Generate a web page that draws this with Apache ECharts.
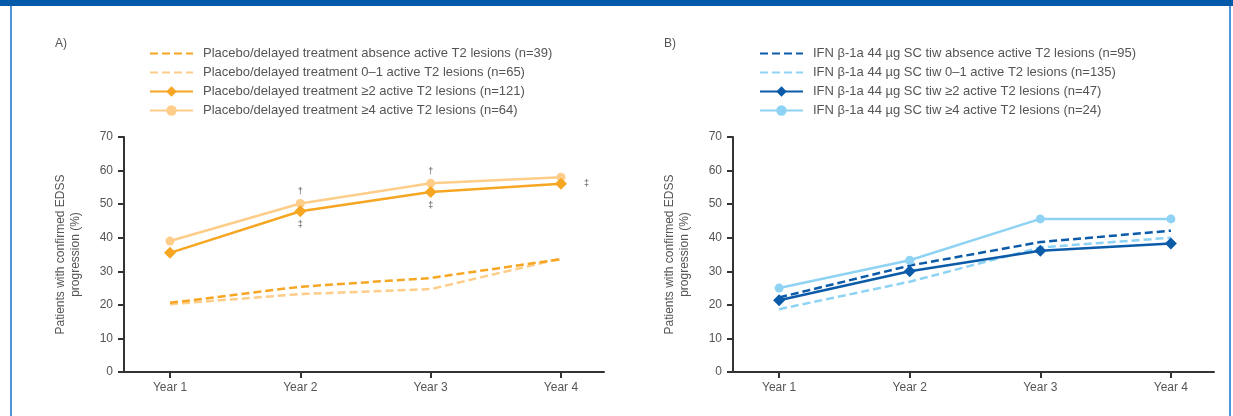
<!doctype html>
<html lang="en">
<head>
    <meta charset="UTF-8">
    <script src="https://cdn.jsdelivr.net/npm/echarts@6/dist/echarts.min.js"></script>
    <title>EDSS progression by active T2 lesions</title>
    <style>
        body { margin: 0; background: #fff; }
        #wrap { position: relative; width: 1233px; height: 416px; overflow: hidden; }
        #topbar { position: absolute; left: 0; top: 0; width: 1233px; height: 6px; background: #0059a9; }
        #lborder { position: absolute; left: 10px; top: 6px; width: 2px; height: 410px; background: #4f95d6; }
        #rborder { position: absolute; left: 1229px; top: 6px; width: 2px; height: 410px; background: #4f95d6; }
        #chart { position: absolute; left: 0; top: 0; width: 1233px; height: 416px; }
    </style>
</head>
<body>
<div id="wrap">
    <div id="topbar"></div>
    <div id="lborder"></div>
    <div id="rborder"></div>
    <div id="chart"></div>
</div>
<script>
    // x categories
    var years = ['Year 1', 'Year 2', 'Year 3', 'Year 4'];

    // panel A: placebo / delayed treatment (%)
    var plcAbsence = [20.6, 25.4, 28.0, 33.6];
    var plc01 = [20.2, 23.2, 24.7, 33.8];
    var plcGe2 = [35.5, 47.9, 53.6, 56.1];
    var plcGe4 = [39.0, 50.2, 56.2, 58.0];
    var plcGe2Marks = ['', '\u2021', '\u2021', '\u2021'];
    var plcGe4Marks = ['', '\u2020', '\u2020', ''];

    // panel B: IFN beta-1a 44 ug SC tiw (%)
    var ifnAbsence = [22.2, 31.7, 38.7, 42.1];
    var ifn01 = [18.7, 26.9, 37.1, 40.0];
    var ifnGe2 = [21.4, 30.0, 36.1, 38.3];
    var ifnGe4 = [25.0, 33.3, 45.6, 45.6];

    var namesA = [
        'Placebo/delayed treatment absence active T2 lesions (n=39)',
        'Placebo/delayed treatment 0\u20131 active T2 lesions (n=65)',
        'Placebo/delayed treatment \u22652 active T2 lesions (n=121)',
        'Placebo/delayed treatment \u22654 active T2 lesions (n=64)'
    ];
    var namesB = [
        'IFN \u03b2-1a 44 \u00b5g SC tiw absence active T2 lesions (n=95)',
        'IFN \u03b2-1a 44 \u00b5g SC tiw 0\u20131 active T2 lesions (n=135)',
        'IFN \u03b2-1a 44 \u00b5g SC tiw \u22652 active T2 lesions (n=47)',
        'IFN \u03b2-1a 44 \u00b5g SC tiw \u22654 active T2 lesions (n=24)'
    ];

    var ORANGE = '#f6a623', ORANGE_LT = '#fdcd89';
    var BLUE = '#0b5ba9', BLUE_LT = '#8fd3f4';
    var TXT = '#555';
    var FONT = 'Liberation Sans';

    function pts(arr, marks, lastRight) {
        return arr.map(function (v, i) {
            var m = marks ? marks[i] : '';
            var item = {value: [i + 1, v]};
            if (m) {
                item.label = {
                    show: true, formatter: m, color: TXT, fontSize: 9, fontFamily: FONT,
                    position: (lastRight && i === arr.length - 1) ? 'right' : (lastRight ? 'bottom' : 'top'),
                    distance: (lastRight && i === arr.length - 1) ? 17 : 3
                };
            }
            return item;
        });
    }

    function dashed(name, arr, color, idx) {
        return {
            name: name, type: 'line', xAxisIndex: idx, yAxisIndex: idx,
            data: pts(arr), symbol: 'none', color: color,
            lineStyle: {color: color, width: 2.5, type: [8, 4]}, z: 2, animation: false
        };
    }

    function solid(name, arr, color, idx, symbol, size, marks, lastRight) {
        return {
            name: name, type: 'line', xAxisIndex: idx, yAxisIndex: idx,
            data: pts(arr, marks, lastRight), symbol: symbol, symbolSize: size, color: color,
            itemStyle: {color: color}, lineStyle: {color: color, width: 2.5},
            z: symbol === 'diamond' ? 4 : 3, animation: false
        };
    }

    function xAx(idx) {
        return {
            type: 'value', gridIndex: idx, min: 0.647, max: 4.33,
            axisLine: {lineStyle: {color: '#333', width: 2}},
            axisTick: {customValues: [1, 2, 3, 4], length: 6, lineStyle: {color: '#333', width: 2}},
            axisLabel: {
                customValues: [1, 2, 3, 4], margin: 10, color: TXT, fontSize: 12, fontFamily: FONT,
                formatter: function (v) { return years[Math.round(v) - 1]; }
            },
            splitLine: {show: false}
        };
    }

    function yAx(idx) {
        return {
            type: 'value', gridIndex: idx, min: 0, max: 70, interval: 10,
            name: 'Patients with confirmed EDSS\nprogression (%)',
            nameLocation: 'middle', nameGap: 41, nameRotate: 90,
            nameTextStyle: {color: TXT, fontSize: 12, fontFamily: FONT, lineHeight: 15},
            axisLine: {show: true, lineStyle: {color: '#333', width: 2}},
            axisTick: {show: true, length: 6, lineStyle: {color: '#333', width: 2}},
            axisLabel: {margin: 11, color: TXT, fontSize: 12, fontFamily: FONT},
            splitLine: {show: false}
        };
    }

    function legend(left, names) {
        return {
            left: left, top: 42, orient: 'vertical',
            data: names.map(function (n, i) {
                // dashed rows: line only, no marker
                return i < 2 ? {name: n, itemStyle: {opacity: 0}} : {name: n};
            }),
            itemWidth: 43, itemHeight: 13, itemGap: 6,
            textStyle: {color: TXT, fontSize: 13, fontFamily: FONT, padding: [0, 0, 0, 5]},
            selectedMode: false
        };
    }

    var myChart = echarts.init(document.getElementById('chart'));
    var option = {
        backgroundColor: 'transparent',
        title: [
            {text: 'A)', left: 50, top: 33, textStyle: {color: TXT, fontSize: 12, fontWeight: 'normal', fontFamily: FONT}},
            {text: 'B)', left: 659, top: 33, textStyle: {color: TXT, fontSize: 12, fontWeight: 'normal', fontFamily: FONT}}
        ],
        legend: [legend(144, namesA), legend(754, namesB)],
        grid: [
            {left: 124, top: 137, width: 480, height: 235},
            {left: 733, top: 137, width: 481, height: 235}
        ],
        xAxis: [xAx(0), xAx(1)],
        yAxis: [yAx(0), yAx(1)],
        series: [
            dashed(namesA[0], plcAbsence, ORANGE, 0),
            dashed(namesA[1], plc01, ORANGE_LT, 0),
            solid(namesA[2], plcGe2, ORANGE, 0, 'diamond', 12, plcGe2Marks, true),
            solid(namesA[3], plcGe4, ORANGE_LT, 0, 'circle', 9, plcGe4Marks, false),
            dashed(namesB[0], ifnAbsence, BLUE, 1),
            dashed(namesB[1], ifn01, BLUE_LT, 1),
            solid(namesB[2], ifnGe2, BLUE, 1, 'diamond', 12),
            solid(namesB[3], ifnGe4, BLUE_LT, 1, 'circle', 9)
        ]
    };
    // darker dashed line sits over the lighter one
    option.series[0].z = 3;
    option.series[4].z = 3;
    myChart.setOption(option);
</script>
</html>
